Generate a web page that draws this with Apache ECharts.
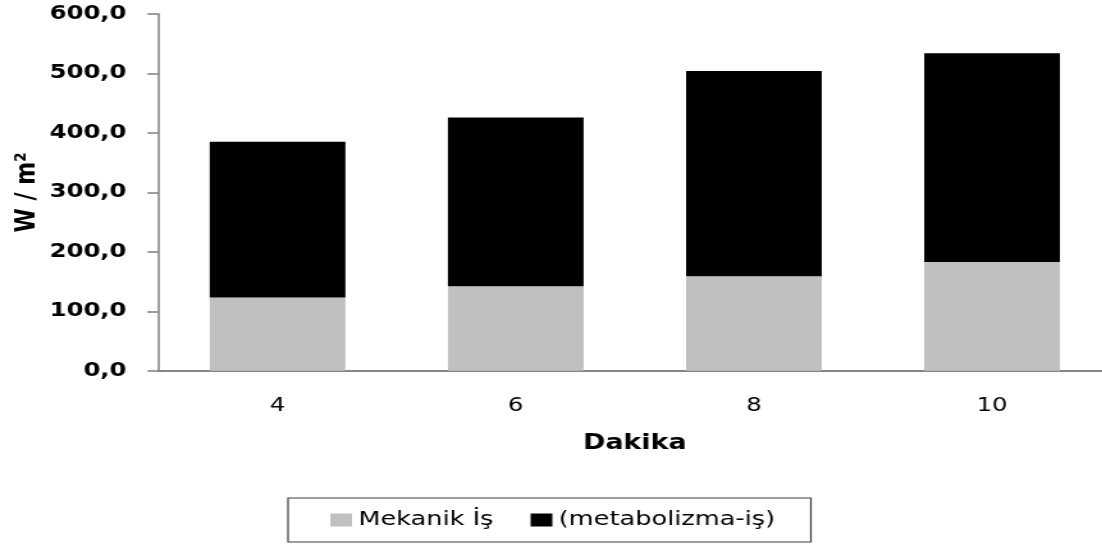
<!DOCTYPE html>
<html>
<head>
<meta charset="utf-8">
<script src="https://cdn.jsdelivr.net/npm/echarts@6/dist/echarts.min.js"></script>
<style>
  html, body { margin: 0; padding: 0; background: #fff; overflow: hidden; }
  #wrap { width: 1102px; height: 547px; overflow: hidden; }
  /* the chart is laid out narrow and stretched sideways to the final width */
  #chart { width: 880px; height: 547px; transform: scaleX(1.28); transform-origin: 0 0; }
</style>
</head>
<body>
<div id="wrap"><div id="chart"></div></div>
<script>
// Dakika (minutes)
const categories = ['4', '6', '8', '10'];
// Mekanik İş, W/m²
const mekanikIs = [123, 142, 159, 183];
// (metabolizma-iş), W/m², stacked on top of the mechanical work
const metabolizmaIs = [262, 284, 345, 351];

const yMin = 0;
const yMax = 600;
const yStep = 100;

const FONT = '"DejaVu Sans", Verdana, sans-serif';

const chart = echarts.init(document.getElementById('chart'), null, { renderer: 'canvas' });

chart.setOption({
  animation: false,
  backgroundColor: '#ffffff',
  grid: { left: 123.8, right: 11.9, top: 14, bottom: 176.3, outerBoundsMode: 'none', containLabel: false },
  legend: {
    left: 225,
    top: 498,
    orient: 'horizontal',
    itemWidth: 17,
    itemHeight: 13,
    itemGap: 29,
    padding: [12, 28, 12, 33],
    borderColor: '#404040',
    borderWidth: 1.2,
    icon: 'rect',
    textStyle: { fontFamily: FONT, fontSize: 20, color: '#000' },
    data: ['Mekanik İş', '(metabolizma-iş)']
  },
  xAxis: {
    type: 'category',
    data: categories,
    name: 'Dakika',
    nameLocation: 'middle',
    nameGap: 62,
    nameTextStyle: { fontFamily: FONT, fontSize: 21, fontWeight: 'bold', color: '#000' },
    axisLine: { show: true, lineStyle: { color: '#868686', width: 2 } },
    axisTick: { show: false },
    axisLabel: { fontFamily: FONT, fontSize: 19, color: '#000', margin: 26 }
  },
  yAxis: {
    type: 'value',
    min: yMin,
    max: yMax,
    interval: yStep,
    name: 'W / m²',
    nameLocation: 'middle',
    nameGap: 92,
    nameMoveOverlap: false,
    nameTextStyle: { fontFamily: FONT, fontSize: 22, fontWeight: 'bold', color: '#000' },
    axisLine: { show: true, lineStyle: { color: '#868686', width: 1.6 } },
    axisTick: { show: true, length: 8.6, lineStyle: { color: '#868686', width: 1.6 } },
    splitLine: { show: false },
    axisLabel: {
      fontFamily: FONT, fontSize: 19, fontWeight: 'bold', color: '#000', margin: 25,
      formatter: v => v.toFixed(1).replace('.', ',')
    }
  },
  series: [
    {
      name: 'Mekanik İş',
      type: 'bar',
      stack: 'toplam',
      barWidth: 106,
      itemStyle: { color: '#c0c0c0' },
      data: mekanikIs
    },
    {
      name: '(metabolizma-iş)',
      type: 'bar',
      stack: 'toplam',
      barWidth: 106,
      itemStyle: { color: '#000000' },
      data: metabolizmaIs
    }
  ]
});
</script>
</body>
</html>
